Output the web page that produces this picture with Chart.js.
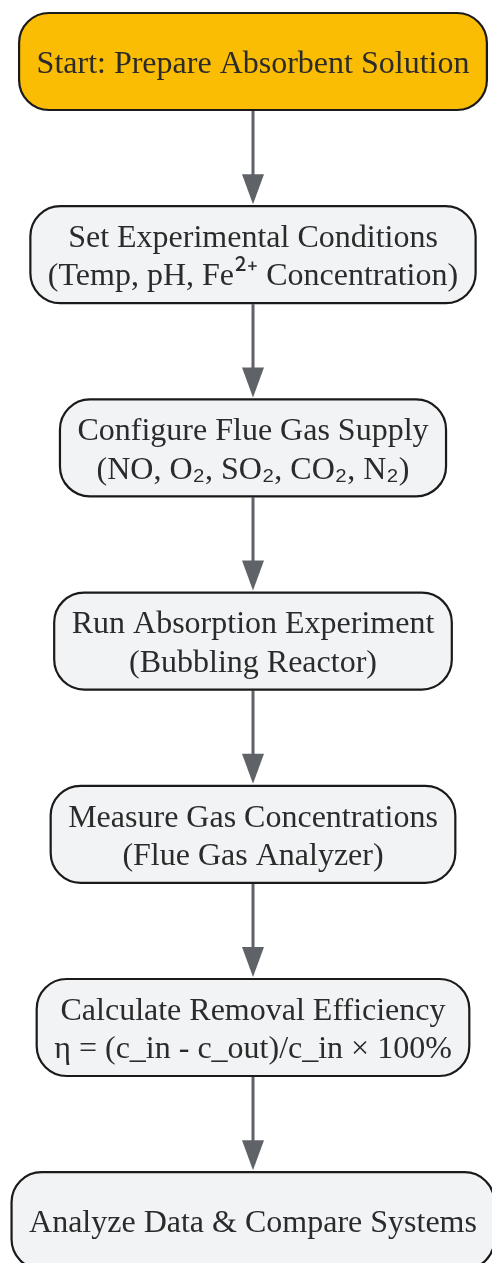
<!DOCTYPE html>
<html><head><meta charset="utf-8">
<script src="https://cdn.jsdelivr.net/npm/chart.js@4/dist/chart.umd.min.js"></script>
<style>html,body{margin:0;padding:0;background:#fff;overflow:hidden}</style>
</head><body>
<canvas id="c" width="492" height="1263"></canvas>
<script>
const steps = [
  "Start: Prepare Absorbent Solution",
  "Set Experimental Conditions\n(Temp, pH, Fe²⁺ Concentration)",
  "Configure Flue Gas Supply\n(NO, O₂, SO₂, CO₂, N₂)",
  "Run Absorption Experiment\n(Bubbling Reactor)",
  "Measure Gas Concentrations\n(Flue Gas Analyzer)",
  "Calculate Removal Efficiency\nη = (c_in - c_out)/c_in × 100%",
  "Analyze Data & Compare Systems"
];
const stepKinds = ["start","process","process","process","process","process","process"];
const edgesFrom = [0,1,2,3,4,5];
const edgesTo   = [1,2,3,4,5,6];

const FONT = '32px "Liberation Serif", "Times New Roman", serif';
const ALT_FONT = '32px "Noto Sans CJK SC", sans-serif';
const ALT_CHARS = '²⁺₂';
const fills = {start:'#FBBC04', process:'#F1F3F4'};

function segs(line){
  const out = [];
  for(const ch of line){
    const alt = ALT_CHARS.includes(ch);
    if(out.length && out[out.length-1].alt===alt) out[out.length-1].t += ch;
    else out.push({t:ch, alt});
  }
  return out;
}
function lineWidth(ctx, line){
  let w = 0;
  for(const s of segs(line)){ ctx.font = s.alt?ALT_FONT:FONT; w += ctx.measureText(s.t).width; }
  return w;
}
function drawLine(ctx, line, cx, y){
  const w = lineWidth(ctx, line);
  let x = cx - w/2;
  ctx.textAlign = 'left';
  for(const s of segs(line)){
    ctx.font = s.alt?ALT_FONT:FONT;
    ctx.fillText(s.t, x, y);
    x += ctx.measureText(s.t).width;
  }
}

const flowPlugin = {
  id:'flow',
  afterDatasetsDraw(chart){
    const ctx = chart.ctx;
    const pts = chart.getDatasetMeta(0).data;
    const halfH = 48.5, pad = 17.5, r = 30;
    ctx.save();
    for(let k=0;k<edgesFrom.length;k++){
      const a = pts[edgesFrom[k]], b = pts[edgesTo[k]];
      const y0 = a.y + halfH + 1, y1 = b.y - halfH - 2;
      ctx.strokeStyle = '#5F6368'; ctx.fillStyle = '#5F6368';
      ctx.lineWidth = 3;
      ctx.beginPath(); ctx.moveTo(a.x, y0); ctx.lineTo(a.x, y1 - 26); ctx.stroke();
      ctx.beginPath();
      ctx.moveTo(a.x - 11, y1 - 30);
      ctx.lineTo(a.x + 11, y1 - 30);
      ctx.lineTo(a.x, y1);
      ctx.closePath(); ctx.fill();
    }
    pts.forEach((p,i)=>{
      const lines = steps[i].split('\n');
      const w = Math.max(...lines.map(l=>lineWidth(ctx,l))) + pad*2;
      const x0 = p.x - w/2, y0 = p.y - halfH;
      ctx.beginPath();
      ctx.roundRect(x0, y0, w, halfH*2, r);
      ctx.fillStyle = fills[stepKinds[i]];
      ctx.fill();
      ctx.lineWidth = 2.2; ctx.strokeStyle = '#1a1a1a';
      ctx.stroke();
      ctx.fillStyle = '#2b2b2b';
      ctx.textBaseline = 'alphabetic';
      const lh = 38.4;
      lines.forEach((l,j)=>{
        drawLine(ctx, l, p.x, p.y + (j - (lines.length-1)/2)*lh + 11.5);
      });
    });
    ctx.restore();
  }
};

new Chart(document.getElementById('c'), {
  type:'scatter',
  data:{ datasets:[{ data: steps.map((s,i)=>({x:0, y:i})), pointRadius:0, showLine:false }] },
  options:{
    responsive:false, animation:false, events:[],
    layout:{padding:0},
    plugins:{legend:{display:false}, tooltip:{enabled:false}},
    scales:{
      x:{type:'linear', display:false, min:-253, max:239},
      y:{type:'linear', display:false, reverse:true, min:-61.5/193.2, max:(1263-61.5)/193.2}
    }
  },
  plugins:[flowPlugin]
});
</script>
</body></html>
